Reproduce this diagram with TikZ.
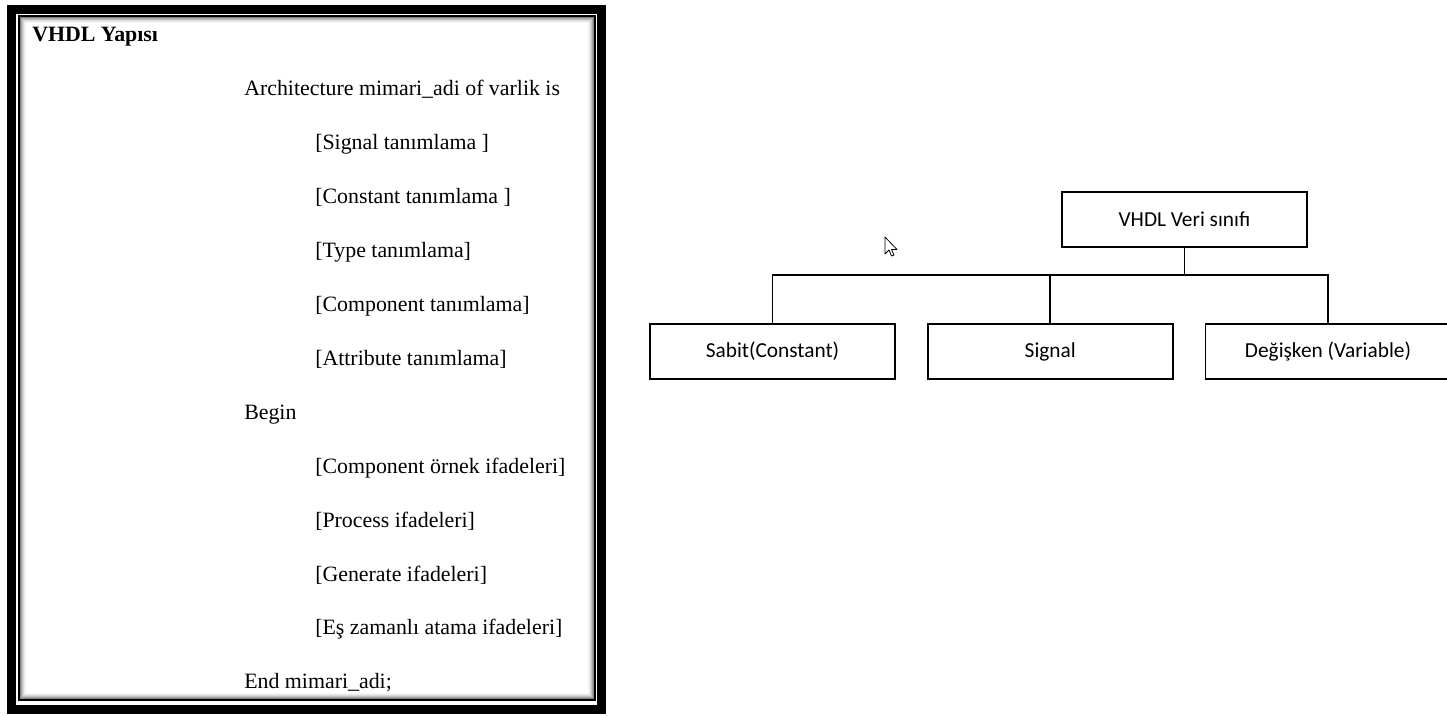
\documentclass[tikz,border=0pt]{standalone}
\usepackage{fontspec}
\setmainfont{Liberation Serif}
\newfontfamily\calibri{Carlito}
\usetikzlibrary{positioning}

\tikzset{
    codeline/.style={anchor=base west, inner sep=0pt, font=\fontsize{16.4pt}{18pt}\selectfont},
    sinif/.style={draw, line width=1.3pt, minimum width=183.75pt, minimum height=41.25pt, inner sep=0pt,
        font=\calibri\fontsize{16pt}{18pt}\selectfont},
    dal/.style={line width=1.3pt}
}

\begin{document}
\begin{tikzpicture}[x=0.75pt,y=-0.75pt]
\useasboundingbox (0,0) rectangle (1447,716);

% cerceve
\draw[line width=6.4pt] (11.25,9.25) rectangle (601.75,709.75);
\draw[line width=1.5pt] (18.5,16) rectangle (594.5,700);
\foreach \i/\c in {1/50,2/35,3/24,4/15,5/8,6/4}
    \draw[black!\c, line width=0.75pt] (19+\i,16.5+\i) rectangle (594-\i,699.5-\i);

% VHDL yapisi
\node[codeline] (baslik) at (32,42) {\bfseries VHDL Yapısı};
\node[codeline] (mimari) at (244,95.9) {Architecture mimari\_adi of varlik is};
\node[codeline] (sinyal) at (315,149.8) {[Signal tanımlama ]};
\node[codeline] (sabitt) at (315,203.7) {[Constant tanımlama ]};
\node[codeline] (tip) at (315,257.6) {[Type tanımlama]};
\node[codeline] (bilesen) at (315,311.5) {[Component tanımlama]};
\node[codeline] (ozellik) at (315,365.4) {[Attribute tanımlama]};
\node[codeline] (basla) at (244,419.3) {Begin};
\node[codeline] (ornek) at (315,473.2) {[Component örnek ifadeleri]};
\node[codeline] (proses) at (315,527.1) {[Process ifadeleri]};
\node[codeline] (uret) at (315,581) {[Generate ifadeleri]};
\node[codeline] (atama) at (315,634.9) {[Eş zamanlı atama ifadeleri]};
\node[codeline] (bitir) at (244,688.8) {End mimari\_adi;};

% veri sinifi agaci
\node[sinif] (veri) at (1184.5,219.5) {VHDL Veri sınıfı};
\node[sinif] (sabit) at (772.5,351.5) {Sabit(Constant)};
\node[sinif, right=23.25pt of sabit] (signal) {Signal};
\node[sinif, right=23.25pt of signal] (degisken) {Değişken (Variable)};
\coordinate (bar) at (1184.5,275);

\draw[dal] (veri.south) -- (veri.south |- bar);
\draw[dal] (sabit.north) -- (sabit.north |- bar) -- (degisken.north |- bar) -- (degisken.north);
\draw[dal] (signal.north) -- (signal.north |- bar);

% imlec
\draw[fill=white, line width=0.6pt, line join=round] (885,237) -- ++(0,17) -- ++(4,-4) -- ++(2.5,6) -- ++(2.5,-1) -- ++(-2.5,-5.5) -- ++(5.5,0) -- cycle;
\end{tikzpicture}
\end{document}
